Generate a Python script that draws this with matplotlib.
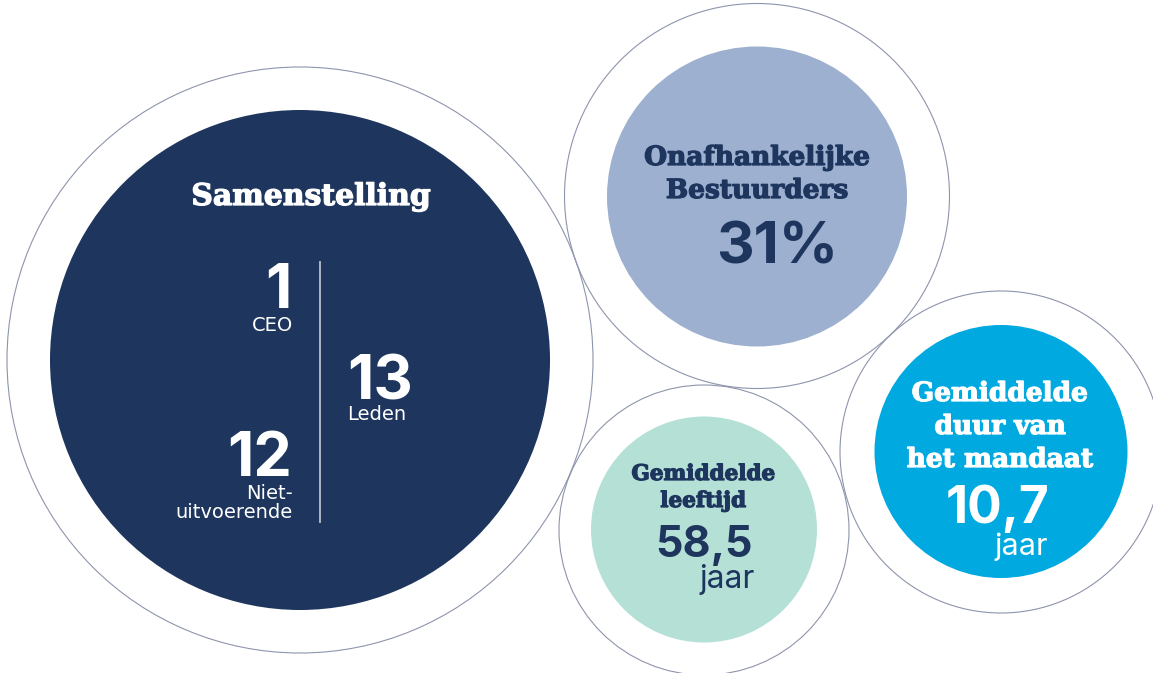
import matplotlib
matplotlib.use("Agg")
import matplotlib.pyplot as plt
import matplotlib.patheffects as pe
from matplotlib.patches import Circle

# ---- data ----
comp_title = "Samenstelling"
comp_values = ["1", "12", "13"]
comp_labels = ["CEO", "Niet-\nuitvoerende", "Leden"]

kpi_titles = ["Onafhankelijke\nBestuurders", "Gemiddelde\nleeftijd", "Gemiddelde\nduur van\nhet mandaat"]
kpi_values = ["31%", "58,5", "10,7"]
kpi_units = ["", "jaar", "jaar"]

# ---- style / layout ----
W, H = 1153, 673
NAVY = "#1E355E"
STEEL = "#9DB0CF"
MINT = "#B4E0D6"
CYAN = "#00A9E0"
RING = "#8E95AC"
SERIF = ["DejaVu Serif"]
SANS = ["Inter", "DejaVu Sans"]
LABEL = ["DejaVu Sans"]

fig = plt.figure(figsize=(W / 100, H / 100), dpi=100)
ax = fig.add_axes([0, 0, 1, 1])
ax.set_xlim(0, W)
ax.set_ylim(H, 0)
ax.set_aspect("equal")
ax.axis("off")

# outline rings (center x, center y, radius)
rings = [(300, 360, 293), (757, 196, 192.5), (704, 530, 145), (1001, 452, 161)]
for cx, cy, r in rings:
    ax.add_patch(Circle((cx, cy), r, fill=False, ec=RING, lw=0.8, zorder=1))

# filled discs
discs = [(300, 360, 250, NAVY), (757, 196.5, 150, STEEL), (704, 529.5, 113, MINT), (1001, 451.5, 126.5, CYAN)]
for cx, cy, r, c in discs:
    ax.add_patch(Circle((cx, cy), r, fc=c, ec="none", zorder=2))

def txt(x, y, s, size, color, family, weight="bold", ha="center", heavy=False):
    t = ax.text(x, y, s, fontsize=size, color=color, family=family, fontweight=weight,
                ha=ha, va="baseline", zorder=5)
    if heavy:
        t.set_path_effects([pe.withStroke(linewidth=0.9, foreground=color)])

def lines(x, y0, s, step, size, color, family, weight="bold", ha="center", heavy=False):
    for i, line in enumerate(s.split("\n")):
        txt(x, y0 + i * step, line, size, color, family, weight, ha, heavy)

# composition disc
txt(311, 205, comp_title, 21.5, "white", SERIF, heavy=True)
ax.plot([320, 320], [262, 522], color="#B9C0CE", lw=1.3, zorder=4)
txt(292, 308, comp_values[0], 44, "white", SANS, ha="right")
lines(293, 331, comp_labels[0], 19, 14, "white", LABEL, weight="normal", ha="right")
txt(292, 476, comp_values[1], 44, "white", SANS, ha="right")
lines(293, 499, comp_labels[1], 19, 14, "white", LABEL, weight="normal", ha="right")
txt(347, 400, comp_values[2], 44, "white", SANS, ha="left")
lines(347, 420, comp_labels[2], 19, 14, "white", LABEL, weight="normal", ha="left")

# independent directors
lines(757, 165, kpi_titles[0], 33, 19, NAVY, SERIF, heavy=True)
txt(777, 264, kpi_values[0], 42, NAVY, SANS)

# average age
lines(703, 480, kpi_titles[1], 27, 15.5, NAVY, SERIF, heavy=True)
txt(704, 557, kpi_values[1], 31, NAVY, SANS)
txt(727, 588, kpi_units[1], 23, NAVY, SANS, weight="normal")

# average mandate
lines(1000, 401, kpi_titles[2], 33, 19, "white", SERIF, heavy=True)
txt(998, 523, kpi_values[2], 37, "white", SANS)
txt(1021, 555, kpi_units[2], 22, "white", SANS, weight="normal")

fig.savefig("out.png", dpi=100)
